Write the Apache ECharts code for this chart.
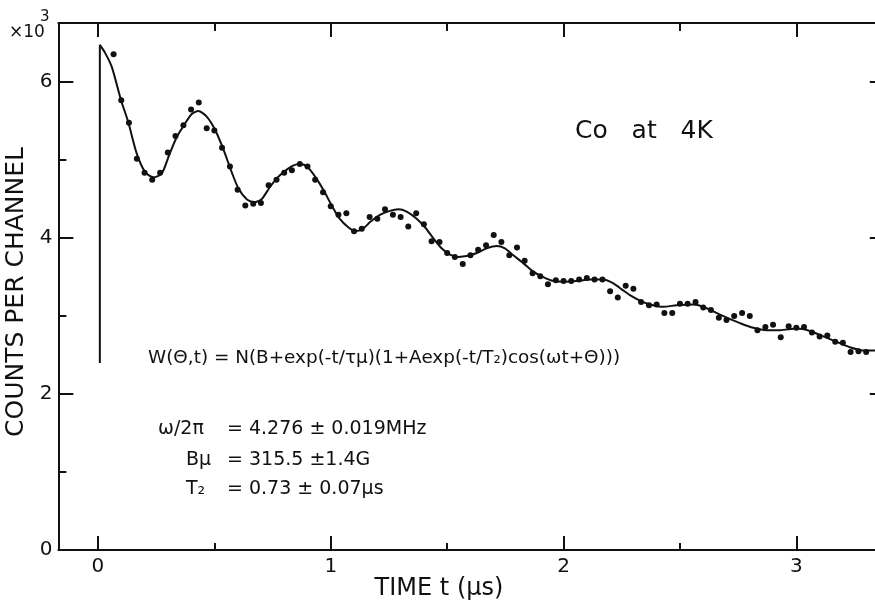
<!DOCTYPE html>
<html>
<head>
<meta charset="utf-8">
<title>Co at 4K</title>
<script src="https://cdn.jsdelivr.net/npm/echarts@6/dist/echarts.min.js"></script>
<style>
  html, body { margin: 0; padding: 0; background: #fff; }
  #chart { width: 875px; height: 608px; }
</style>
</head>
<body>
<div id="chart"></div>
<script>
// チャネル時刻 (μs) と計数 (×10³)
const channelTimes = [
  0.067, 0.100, 0.133, 0.167, 0.200, 0.233, 0.267, 0.300, 0.333, 0.367,
  0.400, 0.433, 0.467, 0.500, 0.533, 0.567, 0.600, 0.633, 0.667, 0.700,
  0.733, 0.767, 0.800, 0.833, 0.867, 0.900, 0.933, 0.967, 1.000, 1.033,
  1.067, 1.100, 1.133, 1.167, 1.200, 1.233, 1.267, 1.300, 1.333, 1.367,
  1.400, 1.433, 1.467, 1.500, 1.533, 1.567, 1.600, 1.633, 1.667, 1.700,
  1.733, 1.767, 1.800, 1.833, 1.867, 1.900, 1.933, 1.967, 2.000, 2.033,
  2.067, 2.100, 2.133, 2.167, 2.200, 2.233, 2.267, 2.300, 2.333, 2.367,
  2.400, 2.433, 2.467, 2.500, 2.533, 2.567, 2.600, 2.633, 2.667, 2.700,
  2.733, 2.767, 2.800, 2.833, 2.867, 2.900, 2.933, 2.967, 3.000, 3.033,
  3.067, 3.100, 3.133, 3.167, 3.200, 3.233, 3.267, 3.300
];
const channelCounts = [
  6.36, 5.77, 5.48, 5.02, 4.84, 4.75, 4.84, 5.10, 5.31, 5.45,
  5.65, 5.74, 5.41, 5.38, 5.16, 4.92, 4.62, 4.42, 4.44, 4.45,
  4.68, 4.75, 4.84, 4.87, 4.95, 4.92, 4.75, 4.59, 4.41, 4.30,
  4.32, 4.09, 4.12, 4.27, 4.25, 4.37, 4.30, 4.27, 4.15, 4.32,
  4.18, 3.96, 3.95, 3.81, 3.76, 3.67, 3.78, 3.85, 3.91, 4.04,
  3.95, 3.78, 3.88, 3.71, 3.55, 3.51, 3.41, 3.46, 3.45, 3.45,
  3.47, 3.49, 3.47, 3.47, 3.32, 3.24, 3.39, 3.35, 3.18, 3.14,
  3.15, 3.04, 3.04, 3.16, 3.16, 3.18, 3.11, 3.08, 2.98, 2.95,
  3.00, 3.04, 3.00, 2.82, 2.86, 2.89, 2.73, 2.87, 2.85, 2.86,
  2.79, 2.74, 2.75, 2.67, 2.66, 2.54, 2.55, 2.54
];

// フィット曲線（先頭2点は t=0 の立ち上がり）
const fitTimes = [
  0.008, 0.008, 0.030, 0.059, 0.099, 0.130, 0.166, 0.202, 0.238, 0.274, 0.305,
  0.339, 0.374, 0.402, 0.431, 0.467, 0.503, 0.540, 0.574, 0.603, 0.639,
  0.671, 0.703, 0.735, 0.769, 0.803, 0.838, 0.869, 0.901, 0.935, 0.970,
  1.004, 1.038, 1.075, 1.104, 1.138, 1.170, 1.211, 1.254, 1.290, 1.326,
  1.369, 1.405, 1.440, 1.476, 1.512, 1.548, 1.584, 1.627, 1.670, 1.713,
  1.748, 1.784, 1.827, 1.870, 1.913, 1.956, 1.999, 2.056, 2.113, 2.171,
  2.214, 2.256, 2.285, 2.328, 2.371, 2.428, 2.486, 2.557, 2.600, 2.643,
  2.701, 2.758, 2.815, 2.872, 2.930, 3.001, 3.058, 3.116, 3.173, 3.230,
  3.287, 3.338
];
const fitCounts = [
  2.40, 6.48, 6.38, 6.20, 5.77, 5.49, 5.09, 4.85, 4.78, 4.83, 5.06,
  5.30, 5.47, 5.59, 5.63, 5.56, 5.39, 5.13, 4.85, 4.64, 4.50,
  4.46, 4.50, 4.64, 4.77, 4.86, 4.93, 4.95, 4.91, 4.78, 4.61,
  4.42, 4.25, 4.14, 4.09, 4.12, 4.21, 4.30, 4.35, 4.37, 4.34,
  4.25, 4.14, 4.00, 3.87, 3.79, 3.76, 3.77, 3.81, 3.87, 3.90,
  3.87, 3.78, 3.68, 3.57, 3.50, 3.45, 3.44, 3.45, 3.47, 3.47,
  3.42, 3.33, 3.27, 3.20, 3.15, 3.12, 3.14, 3.15, 3.12, 3.06,
  2.98, 2.91, 2.85, 2.82, 2.82, 2.84, 2.81, 2.74, 2.67, 2.60,
  2.56, 2.56
];

// 目盛り
const xLabelValues = [0, 1, 2, 3];
const xMinorValues = [0.5, 1.5, 2.5];
const yLabelValues = [0, 2, 4, 6];
const yMinorValues = [1, 3, 5];

const X_MIN = -0.17, X_MAX = 3.38;
const Y_MIN = 0, Y_MAX = 6.76;
const INK = '#111';
const FONT = '"DejaVu Sans", "Liberation Sans", sans-serif';

const chart = echarts.init(document.getElementById('chart'), null, { renderer: 'canvas' });

const scatterData = channelTimes.map((t, i) => [t, channelCounts[i]]);
const fitPairs = fitTimes.map((t, i) => [t, fitCounts[i]]);
const riseData = fitPairs.slice(0, 2);
const curveData = fitPairs.slice(1);

function xAxisOf(position, ticks, len, withLine, withLabel) {
  return {
    type: 'value', min: X_MIN, max: X_MAX, position: position,
    axisLine: { show: withLine, onZero: false, lineStyle: { color: INK, width: 2 } },
    axisTick: { show: true, inside: true, length: len, customValues: ticks, lineStyle: { color: INK, width: 2 } },
    axisLabel: withLabel
      ? { show: true, customValues: xLabelValues, margin: 7, color: INK, fontSize: 20, fontFamily: FONT }
      : { show: false },
    splitLine: { show: false }
  };
}
function yAxisOf(position, ticks, len, withLine, withLabel) {
  return {
    type: 'value', min: Y_MIN, max: Y_MAX, position: position,
    axisLine: { show: withLine, onZero: false, lineStyle: { color: INK, width: 2 } },
    axisTick: { show: true, inside: true, length: len, customValues: ticks, lineStyle: { color: INK, width: 2 } },
    axisLabel: withLabel
      ? { show: true, customValues: yLabelValues, margin: 6, color: INK, fontSize: 20, fontFamily: FONT }
      : { show: false },
    splitLine: { show: false }
  };
}

function txt(x, y, text, size, align, extra) {
  return Object.assign({
    type: 'text', x: x, y: y, silent: true,
    style: { text: text, fill: INK, font: size + 'px ' + FONT, align: align || 'left', verticalAlign: 'middle' }
  }, extra || {});
}

// 右軸は画像の外（x≈885）に置き、内向きの目盛りだけが端に見える
const option = {
  backgroundColor: '#fff',
  animation: false,
  grid: { left: 58.4, top: 23, width: 826.4, height: 527, outerBoundsMode: 'none', containLabel: false },
  xAxis: [
    xAxisOf('bottom', xLabelValues, 14, true, true),
    xAxisOf('top', xLabelValues, 14, true, false),
    xAxisOf('bottom', xMinorValues, 7, false, false),
    xAxisOf('top', xMinorValues, 8, false, false)
  ],
  yAxis: [
    yAxisOf('left', yLabelValues, 15, true, true),
    yAxisOf('right', yLabelValues, 15, true, false),
    yAxisOf('left', yMinorValues, 8, false, false),
    yAxisOf('right', yMinorValues, 8, false, false)
  ],
  series: [
    {
      name: 'fit', type: 'line', data: curveData, smooth: 0.25,
      showSymbol: false, lineStyle: { color: INK, width: 2 }
    },
    {
      name: 'rise', type: 'line', data: riseData,
      showSymbol: false, lineStyle: { color: INK, width: 2 }
    },
    {
      name: 'counts', type: 'scatter', data: scatterData,
      symbol: 'circle', symbolSize: 6, itemStyle: { color: INK, opacity: 1 }
    }
  ],
  graphic: [
    txt(9, 33, '×10', 17),
    txt(40, 17, '3', 15),
    txt(16, 292, 'COUNTS PER CHANNEL', 25, 'center', { rotation: Math.PI / 2 }),
    txt(439, 589, 'TIME t (μs)', 24, 'center'),
    txt(575, 131, 'Co   at   4K', 25),
    txt(148, 358, 'W(Θ,t) = N(B+exp(-t/τμ)(1+Aexp(-t/T₂)cos(ωt+Θ)))', 18.4),
    txt(158, 429, 'ω/2π', 19),
    txt(227, 429, '= 4.276 ± 0.019MHz', 19),
    txt(186, 460, 'Bμ', 19),
    txt(227, 460, '= 315.5 ±1.4G', 19),
    txt(186, 489, 'T₂', 19),
    txt(227, 489, '= 0.73 ± 0.07μs', 19)
  ]
};

chart.setOption(option);
</script>
</body>
</html>
